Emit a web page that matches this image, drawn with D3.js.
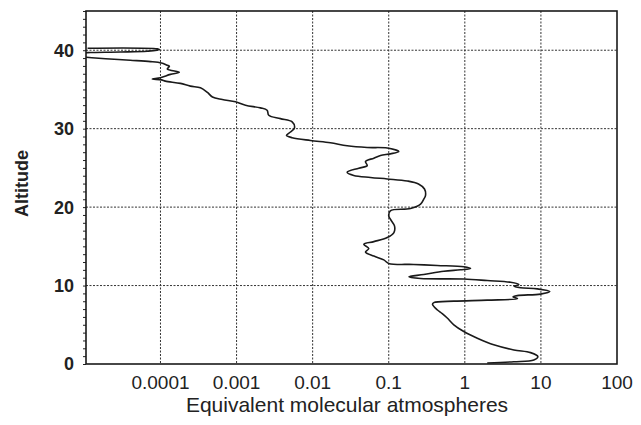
<!DOCTYPE html>
<html>
<head>
<meta charset="utf-8">
<script src="https://cdn.jsdelivr.net/npm/d3@7"></script>
<style>
  body { margin: 0; background: #fff; }
  svg { display: block; }
  .grid line { stroke: #333; stroke-width: 1; stroke-dasharray: 2,1.5; }
  .ylab text { font-family: "Liberation Sans", Arial, sans-serif; font-weight: bold; font-size: 18px; fill: #222; }
  .xlab text { font-family: "Liberation Sans", Arial, sans-serif; font-size: 19px; fill: #222; }
</style>
</head>
<body>
<svg id="chart" width="641" height="425"></svg>
<script>
// altitude (top to bottom) and equivalent molecular atmospheres
var altitude = [40.26, 40.17, 40.06, 39.87, 39.77, 39.71, 39.68, 39.50, 39.30, 39.10,
  38.91, 38.72, 38.55, 38.37, 38.12, 37.95, 37.60, 37.18, 36.92, 36.50, 36.32, 36.22,
  36.06, 35.77, 35.42, 35.22, 34.62, 34.04, 33.72, 33.42, 32.99, 32.65, 32.35, 31.71,
  31.28, 30.86, 30.09, 29.58, 29.14, 28.85, 28.50, 28.21, 27.82, 27.60, 27.53, 27.09,
  26.79, 26.58, 26.24, 25.81, 25.29, 24.96, 24.45, 24.04, 23.78, 23.59, 23.33, 22.95,
  22.31, 21.45, 21.03, 20.38, 19.81, 19.53, 18.88, 18.46, 17.60, 16.76, 16.12, 15.60,
  15.26, 14.71, 14.27, 13.76, 13.27, 12.82, 12.69, 12.56, 12.40, 12.18, 12.01, 11.83,
  11.41, 11.12, 10.90, 10.83, 10.64, 10.42, 10.13, 9.91, 9.71, 9.58, 9.23, 8.91, 8.72,
  8.55, 8.33, 8.14, 8.01, 7.82, 7.63, 6.92, 6.41, 5.86, 5.00, 4.14, 3.29, 2.44, 1.79,
  1.45, 0.94, 0.51, 0.29, 0.13];
var atmospheres = [1.1e-5, 9.1e-5, 9.7e-5, 6.7e-5, 3.0e-5, 1.2e-5, 1.06e-5, 6e-6, 6e-6, 1.06e-5,
  1.9e-5, 4.0e-5, 7.4e-5, 1.03e-4, 1.2e-4, 1.31e-4, 1.23e-4, 1.77e-4, 1.35e-4, 1.0e-4, 7.8e-5, 1.03e-4,
  1.16e-4, 1.83e-4, 2.47e-4, 3.35e-4, 4.14e-4, 4.82e-4, 6.5e-4, 9.7e-4, 1.31e-3, 2.06e-3, 2.52e-3, 2.65e-3,
  3.77e-3, 5.38e-3, 5.77e-3, 5.11e-3, 4.53e-3, 5.38e-3, 9.35e-3, 0.0171, 0.0284, 0.0521, 0.0955, 0.1356,
  0.1054, 0.0779, 0.0637, 0.0495, 0.0521, 0.0404, 0.0284, 0.0347, 0.0575, 0.0955, 0.175, 0.246,
  0.295, 0.304, 0.289, 0.262, 0.193, 0.105, 0.100, 0.105, 0.119, 0.117, 0.0955, 0.0637,
  0.047, 0.0547, 0.0495, 0.0637, 0.0861, 0.100, 0.213, 0.433, 0.97, 1.19, 0.877, 0.530,
  0.289, 0.184, 0.262, 0.97, 1.97, 3.99, 5.13, 4.43, 5.40, 8.96, 13.1, 9.89, 4.89,
  4.30, 4.93, 1.97, 0.717, 0.391, 0.376, 0.433, 0.505, 0.587, 0.717, 0.97, 1.46, 2.40, 4.41,
  7.31, 9.12, 8.07, 4.41, 1.97];

var xTicks = [0.0001, 0.001, 0.01, 0.1, 1, 10, 100];
var xTickLabels = ["0.0001", "0.001", "0.01", "0.1", "1", "10", "100"];
var yTicks = [0, 10, 20, 30, 40];

var svg = d3.select("#chart"),
    margin = {top: 11, right: 24, bottom: 61, left: 86},
    width = +svg.attr("width") - margin.left - margin.right,
    height = +svg.attr("height") - margin.top - margin.bottom,
    g = svg.append("g").attr("transform", "translate(" + margin.left + "," + margin.top + ")");

var x = d3.scaleLog().domain([1.05e-5, 100]).range([0, width]);
var y = d3.scaleLinear().domain([0, 45]).range([height, 0]);

var data = altitude.map(function(a, i) { return {a: a, v: atmospheres[i]}; });

// dotted grid
var grid = g.append("g").attr("class", "grid");
grid.selectAll(".gx")
  .data(xTicks.filter(function(t) { return t < 100; }))
  .enter().append("line")
    .attr("x1", function(d) { return x(d); })
    .attr("x2", function(d) { return x(d); })
    .attr("y1", 0).attr("y2", height);
grid.selectAll(".gy")
  .data(yTicks.filter(function(t) { return t > 0; }))
  .enter().append("line")
    .attr("y1", function(d) { return y(d); })
    .attr("y2", function(d) { return y(d); })
    .attr("x1", 0).attr("x2", width);

// the profile, clipped to the plot
svg.append("defs").append("clipPath").attr("id", "clip")
  .append("rect").attr("width", width).attr("height", height);

var line = d3.line()
  .x(function(d) { return x(d.v); })
  .y(function(d) { return y(d.a); })
  .curve(d3.curveCatmullRom.alpha(0.5));

g.append("path")
  .datum(data)
  .attr("clip-path", "url(#clip)")
  .attr("fill", "none")
  .attr("stroke", "#1a1a1a")
  .attr("stroke-width", 1.6)
  .attr("stroke-linejoin", "round")
  .attr("d", line);

// y axis with minor ticks every unit
var yAxis = d3.axisLeft(y)
  .tickValues(d3.range(0, 46, 1))
  .tickSize(3)
  .tickFormat("");
g.append("g")
  .call(yAxis)
  .call(function(s) { s.select(".domain").remove(); })
  .selectAll("line").attr("stroke", "#222");

g.append("g").attr("class", "ylab")
  .selectAll("text")
  .data(yTicks)
  .enter().append("text")
    .attr("x", -12)
    .attr("y", function(d) { return y(d); })
    .attr("dy", "0.36em")
    .attr("text-anchor", "end")
    .text(function(d) { return d; });

g.append("g").attr("class", "xlab")
  .selectAll("text")
  .data(xTicks)
  .enter().append("text")
    .attr("x", function(d) { return x(d); })
    .attr("y", height + 25)
    .attr("text-anchor", "middle")
    .text(function(d, i) { return xTickLabels[i]; });

// frame
g.append("rect")
  .attr("width", width).attr("height", height)
  .attr("fill", "none")
  .attr("stroke", "#1a1a1a")
  .attr("stroke-width", 1.6);

svg.append("text")
  .attr("transform", "translate(22," + (margin.top + height / 2 - 4) + ") rotate(-90)")
  .attr("text-anchor", "middle")
  .attr("dy", "0.36em")
  .style("font-family", "'Liberation Sans', Arial, sans-serif")
  .style("font-weight", "bold")
  .style("font-size", "18px")
  .style("fill", "#222")
  .text("Altitude");

svg.append("text")
  .attr("x", margin.left + 261)
  .attr("y", 412)
  .attr("text-anchor", "middle")
  .style("font-family", "'Liberation Sans', Arial, sans-serif")
  .style("font-size", "21px")
  .style("fill", "#222")
  .text("Equivalent molecular atmospheres");
</script>
</body>
</html>
